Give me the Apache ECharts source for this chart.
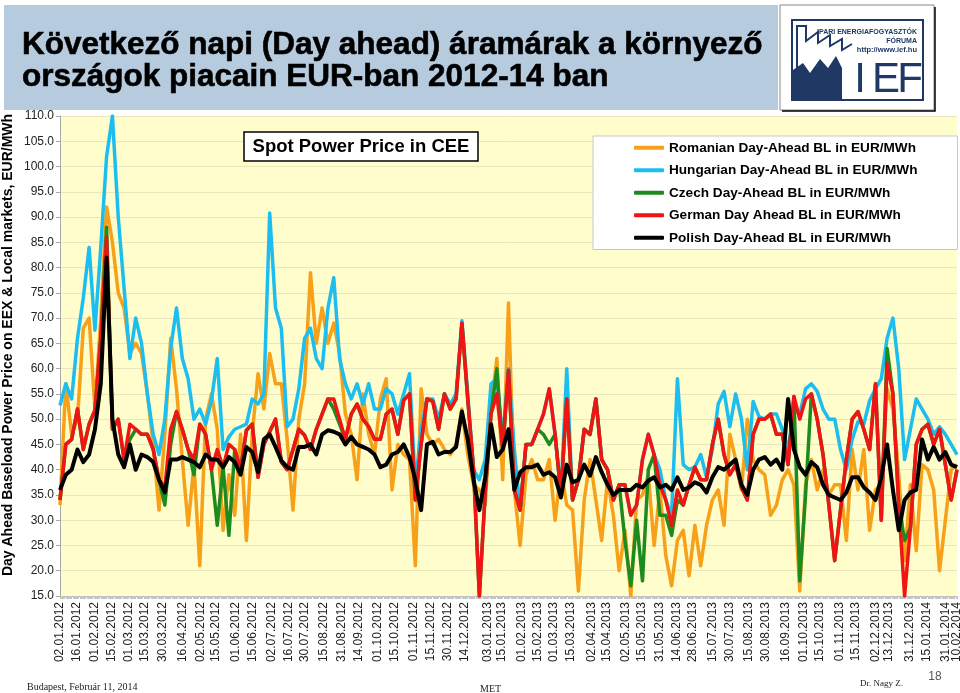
<!DOCTYPE html>
<html><head><meta charset="utf-8">
<script src="https://cdn.jsdelivr.net/npm/echarts@6/dist/echarts.min.js"></script>
<style>html,body{margin:0;padding:0;background:#fff}#c{width:960px;height:693px}</style>
</head><body><div id="c"></div>
<script>
// ---- data ----
const START_DATE = [2012, 0, 2];   // 02.01.2012
const DAY_COUNT = 771;             // up to 10.02.2014
const STEP_DAYS = 5;               // one reading every 5 days

const TICK_LABELS = ["02.01.2012","16.01.2012","01.02.2012","15.02.2012","01.03.2012","15.03.2012","30.03.2012","16.04.2012","02.05.2012","15.05.2012","01.06.2012","15.06.2012","02.07.2012","16.07.2012","30.07.2012","15.08.2012","31.08.2012","14.09.2012","01.10.2012","15.10.2012","01.11.2012","15.11.2012","30.11.2012","14.12.2012","03.01.2013","15.01.2013","01.02.2013","15.02.2013","01.03.2013","15.03.2013","02.04.2013","15.04.2013","02.05.2013","15.05.2013","31.05.2013","14.06.2013","28.06.2013","15.07.2013","30.07.2013","15.08.2013","30.08.2013","16.09.2013","01.10.2013","15.10.2013","01.11.2013","15.11.2013","02.12.2013","13.12.2013","31.12.2013","15.01.2014","31.01.2014","10.02.2014"];

const SERIES_NAMES = ["Romanian Day-Ahead BL in EUR/MWh","Hungarian Day-Ahead BL in EUR/MWh","Czech Day-Ahead BL in EUR/MWh","German Day Ahead BL in EUR/MWh","Polish Day-Ahead BL in EUR/MWh"];
const Y_TITLE = 'Day Ahead Baseload Power Price on EEX & Local markets, EUR/MWh';

const RO = [33,57,47,50,68,70,52,70,92,85, 75,72,63,65,63,55,45,32,47,66, 56,42,29,41,21,50,55,48,28,39, 31,47,26,47,59,52,63,57,57,46, 32,50,57,79,65,72,65,69,63,51, 47,38,55,47,43,54,58,36,45,43, 42,21,56,47,45,46,44,43,45,52, 43,37,36,33,52,62,38,73,36,25, 39,42,38,38,42,30,40,33,32,16, 34,42,34,26,38,31,20,28,15,34, 35,39,25,36,23,17,26,28,19,29, 21,29,34,36,29,47,42,36,50,42, 40,39,31,33,38,40,37,16,37,42, 36,40,35,37,37,26,44,36,44,28, 36,37,56,52,39,22,37,24,41,40, 36,20,30,40,41];
const HU = [52.7,57,54,66,74,84,67.6,84,102,110, 90,76,62,70,65,55,47,43,50,64, 72,62,58,50,52,49,53.7,62,44,46.5, 48,48.5,49,54,53,55,90.8,72,68,48.5, 50,56,66,68,62,60,72,78,62,57, 54,57,53,57,52,52,56,55,51,55, 59,37,48,54,54,50,55,53,55,69.5, 55,40,38,42,57,58,46,60,44,32, 45,45,48,51,56,47,35,60,34,38, 48,47,54,42,40,34,37,37,31,33, 42,47,43,40,34,31,58,41,40,40.5, 43,38.5,44,53,55.5,48.5,55,50,40,53.5, 50.5,50,51,51,48,44,52,51,56,57, 55.5,52,50,50,44,40,46,49.5,49,53.7, 56,58,66,70,60,42,48,54,52,50, 47,48.5,47,45,43];
const CZ = [34,45,46,52,44,49,51.8,66,88,48, 50,42,46,48,47,47,44,38,33,45, 51.5,48,44,39,49,47,40,29,40.5,27, 44,40,47.8,49,38.5,45,47.5,50,41.5,40, 44,48,46.8,44,48,51,54,52,49,46, 51,53,50,48.5,46,46,51,52,47,53.7, 55,34,45,54,53.5,48,55,52,54,69, 54,40,15,35.5,51,60,44,59.7,36,32, 45,45,48,47,45,47,35,54,34,38, 48,47,54,42,40,34,37,26,17,30, 18,40,43,31,31,27,34,33,37,40.5, 38,38,45,50,43,39,41,36.5,34,47, 50,50,51,47,47,41,54.5,18,35,55, 50,43,33,22,32,42,50,51.5,48,44, 57,30,64,55,33,26,28.5,45,48,49, 45,48,41,34,40];
const DE = [34,45,46,52,44,49,51.8,66,86,48, 50,42,49,48,47,47,44,38,36.5,48, 51.5,48,44,42,49,47,40,44,40.5,45, 44,40,47.8,49,38.5,45,47.5,50,41.5,40, 44,48,46.8,44,48,51,54,54,50,46, 51,53,50,48.5,46,46,51,52,47,53.7, 55,34,45,54,53.5,48,55,52,54,69, 54,40,15,35.5,51,55,44,59.7,36,32, 45,45,48,51,56,47,35,54,34,38, 48,47,54,42,40,34,37,37,31,33, 42,47,43,37,34,29,36,33,37,40.5, 38,38,45,50,43,39,41,36.5,34,47, 50,50,51,47,47,41,54.5,50,54,55, 50,43,33,22,32,42,50,51.5,48,44, 57,30,61,55,33,15,28.5,45,48,49, 45,48,41,34,40];
const PL = [36,39,40,44,41.5,43,48,57,82,50, 43,40.5,45,40,43,42.5,41.5,38,35.5,42, 42,42.5,42,41.5,40.5,43,42,42,40.5,42.5, 41.5,39,44.5,43.5,39.5,46,47,44.5,41.8,40.5, 40,44.5,44.5,45,43,47,47.8,47.5,47,45, 46.5,45,44.5,44,43,40.5,41,43,43.5,45, 42.5,38,32,45,45.5,43,43.5,43.5,44.5,51.5, 46,38,32,38.5,49,42.5,44,48,36,39.5, 40.5,40.5,41,39,39.5,38.5,34.5,41,37.5,38, 41,38.8,42.5,39.5,37,35,36,36,36,37, 36.5,37.8,38.5,36.5,37,36,38.5,36,36.5,37.5, 37,35.5,38.5,40.5,40,41,42,37,35,40, 42,42.5,41,42,40,54,44,40.5,39,41.5, 40.5,37,35,34.5,34,35.5,38.5,38.5,36.5,35.5, 34,38.5,45,36,28,34,35.5,36,46,42, 44.5,42,43.5,41,40.5];

const Y_MIN = 15, Y_MAX = 110, Y_STEP = 5;

// ---- build ----
const pad2 = n => (n < 10 ? '0' : '') + n;
const DAYS = [];
for (let i = 0; i < DAY_COUNT; i++) {
  const d = new Date(Date.UTC(START_DATE[0], START_DATE[1], START_DATE[2] + i));
  DAYS.push(pad2(d.getUTCDate()) + '.' + pad2(d.getUTCMonth() + 1) + '.' + d.getUTCFullYear());
}
const LAST_TICK = TICK_LABELS[TICK_LABELS.length - 1];
const TICK_SET = new Set(TICK_LABELS.slice(0, -1));
const COLORS = ['#F7A11A', '#1CBEF0', '#1E8B1E', '#F01414', '#000000'];
const VALUES = [RO, HU, CZ, DE, PL];
const FONT = '"Liberation Sans", Arial, sans-serif';
const SERIF = '"Liberation Serif", "Times New Roman", serif';
const NAVY = '#1F3864';
const LABEL_STYLE = {rotate: 90, fontSize: 12, color: '#222', margin: 6, fontFamily: FONT};

const chart = echarts.init(document.getElementById('c'), null, {renderer: 'canvas'});
chart.setOption({
  animation: false,
  backgroundColor: '#ffffff',
  textStyle: {fontFamily: FONT},
  grid: {left: 60, right: 3, top: 116, bottom: 97, show: true, backgroundColor: '#FFFDCB', borderWidth: 0,
         containLabel: false, outerBoundsMode: 'none'},
  legend: {
    data: SERIES_NAMES, orient: 'vertical', left: 593, top: 136,
    padding: [4, 40, 4, 41], itemGap: 7, itemWidth: 30, itemHeight: 4, icon: 'roundRect',
    backgroundColor: '#ffffff', borderColor: '#c8c8c8', borderWidth: 1,
    textStyle: {fontSize: 13.6, fontWeight: 'bold', color: '#000', fontFamily: FONT, lineHeight: 15.5}
  },
  xAxis: [{
    type: 'category', data: DAYS, boundaryGap: false,
    axisLine: {lineStyle: {color: '#a8a8a8'}},
    axisTick: {show: true, interval: 0, length: 3, lineStyle: {color: '#c4c4c4'}},
    axisLabel: Object.assign({interval: (i, v) => TICK_SET.has(v), showMaxLabel: true, showMinLabel: true}, LABEL_STYLE),
    splitLine: {show: false}
  }, {
    type: 'category', data: DAYS, boundaryGap: false, position: 'bottom',
    axisLine: {show: false}, axisTick: {show: false}, splitLine: {show: false},
    axisLabel: Object.assign({interval: (i, v) => v === LAST_TICK, showMaxLabel: true}, LABEL_STYLE)
  }],
  yAxis: {
    type: 'value', min: Y_MIN, max: Y_MAX, interval: Y_STEP,
    axisLine: {show: true, lineStyle: {color: '#a8a8a8'}},
    axisTick: {show: true, length: 4, lineStyle: {color: '#a8a8a8'}},
    axisLabel: {formatter: v => v.toFixed(1), fontSize: 12, color: '#222', margin: 6, fontFamily: FONT},
    splitLine: {show: true, lineStyle: {color: '#EAE6BE', width: 1}}
  },
  series: VALUES.map((vals, k) => ({
    name: SERIES_NAMES[k], type: 'line', showSymbol: false, symbol: 'none', xAxisIndex: 0,
    data: vals.map((v, i) => [i * STEP_DAYS, v]),
    lineStyle: {width: k === 4 ? 4 : 3.5, color: COLORS[k], join: 'round'},
    itemStyle: {color: COLORS[k]}, z: 2 + k
  })),
  graphic: [
    {type: 'text', x: 8, y: 345, rotation: Math.PI / 2, style: {text: Y_TITLE, font: 'bold 14px ' + FONT, fill: '#000', textAlign: 'center', textVerticalAlign: 'middle'}, z: 101},
    {type: 'rect', shape: {x: 4, y: 5, width: 774, height: 105}, style: {fill: '#B7CBDE'}, z: 100},
    {type: 'text', x: 22, y: 45, style: {text: 'Következő napi (Day ahead) áramárak a környező', font: 'bold 31.5px ' + FONT, fill: '#000', stroke: '#000', lineWidth: 0.6, textVerticalAlign: 'middle'}, z: 101},
    {type: 'text', x: 22, y: 77, style: {text: 'országok piacain EUR-ban 2012-14 ban', font: 'bold 31.5px ' + FONT, fill: '#000', stroke: '#000', lineWidth: 0.6, textVerticalAlign: 'middle'}, z: 101},
    // logo
    {type: 'rect', shape: {x: 780, y: 5, width: 154, height: 105}, style: {fill: '#fff', stroke: '#888', lineWidth: 1}, z: 100},
    {type: 'polyline', shape: {points: [[935, 7], [935, 111], [782, 111]]}, style: {stroke: '#000', lineWidth: 1.5, fill: null}, z: 101},
    {type: 'rect', shape: {x: 792, y: 20, width: 131, height: 80}, style: {fill: null, stroke: NAVY, lineWidth: 2}, z: 101},
    {type: 'polyline', shape: {points: [[797, 68], [797, 26], [806, 26], [806, 41], [818, 32], [818, 43], [830, 35], [830, 46], [842, 39], [842, 50], [852, 44]]}, style: {stroke: NAVY, lineWidth: 2, fill: null}, z: 101},
    {type: 'polygon', shape: {points: [[793, 99], [793, 70], [803, 63], [810, 73], [820, 59], [828, 68], [836, 56], [842, 68], [842, 99]]}, style: {fill: NAVY}, z: 101},
    {type: 'text', x: 917, y: 32, style: {text: 'IPARI ENERGIAFOGYASZTÓK', font: 'bold 7px ' + FONT, fill: NAVY, textAlign: 'right', textVerticalAlign: 'middle'}, z: 102},
    {type: 'text', x: 917, y: 41, style: {text: 'FÓRUMA', font: 'bold 7px ' + FONT, fill: NAVY, textAlign: 'right', textVerticalAlign: 'middle'}, z: 102},
    {type: 'text', x: 917, y: 50, style: {text: 'http://www.ief.hu', font: 'bold 7.5px ' + FONT, fill: NAVY, textAlign: 'right', textVerticalAlign: 'middle'}, z: 102},
    {type: 'text', x: 860, y: 80, style: {text: 'I', font: '42px ' + FONT, fill: NAVY, textAlign: 'center', textVerticalAlign: 'middle'}, z: 102},
    {type: 'text', x: 886, y: 80, style: {text: 'E', font: '42px ' + FONT, fill: NAVY, textAlign: 'center', textVerticalAlign: 'middle'}, z: 102},
    {type: 'text', x: 910, y: 80, style: {text: 'F', font: '42px ' + FONT, fill: NAVY, textAlign: 'center', textVerticalAlign: 'middle'}, z: 102},
    // inner chart title
    {type: 'rect', shape: {x: 244, y: 132, width: 234, height: 29}, style: {fill: '#fff', stroke: '#000', lineWidth: 1.5}, z: 100},
    {type: 'text', x: 361, y: 146.5, style: {text: 'Spot Power Price in CEE', font: 'bold 18.5px ' + FONT, fill: '#000', textAlign: 'center', textVerticalAlign: 'middle'}, z: 101},
    // footer
    {type: 'text', x: 27, y: 687, style: {text: 'Budapest, Február 11, 2014', font: '10px ' + SERIF, fill: '#222', textVerticalAlign: 'middle'}, z: 101},
    {type: 'text', x: 480, y: 689, style: {text: 'MET', font: '10px ' + SERIF, fill: '#222', textVerticalAlign: 'middle'}, z: 101},
    {type: 'text', x: 860, y: 684, style: {text: 'Dr. Nagy Z.', font: '9px ' + SERIF, fill: '#222', textVerticalAlign: 'middle'}, z: 101},
    {type: 'text', x: 935, y: 677, style: {text: '18', font: '12px ' + FONT, fill: '#555', textAlign: 'center', textVerticalAlign: 'middle'}, z: 101}
  ]
});
</script>
</body></html>
